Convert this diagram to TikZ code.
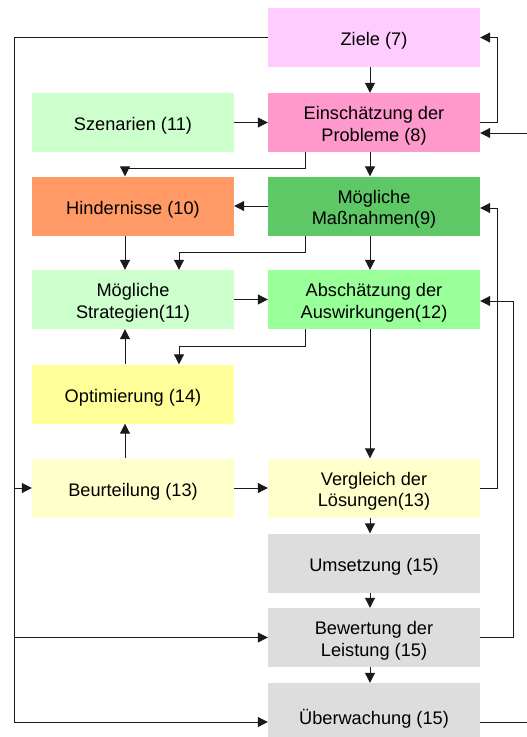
\documentclass[tikz,border=0pt]{standalone}
\usepackage{fontspec}
\setmainfont{Liberation Sans}
\usetikzlibrary{arrows.meta,calc}
\definecolor{cZiele}{HTML}{FFCCFF}
\definecolor{cEinsch}{HTML}{FF99CC}
\definecolor{cHellgruen}{HTML}{CCFFCC}
\definecolor{cHind}{HTML}{FF9966}
\definecolor{cMass}{RGB}{95,200,102}
\definecolor{cAbsch}{HTML}{99FF99}
\definecolor{cOpt}{HTML}{FFFF99}
\definecolor{cBeurt}{HTML}{FFFFCC}
\definecolor{cGrau}{HTML}{DDDDDD}
\definecolor{cLine}{HTML}{1A1A1A}
\begin{document}
\begin{tikzpicture}[x=1pt,y=-1pt,
  txt/.style={inner sep=0pt,align=center,yshift=-3.5pt,
    font=\fontsize{18.2pt}{21.5pt}\selectfont},
  box/.style={draw=none,inner sep=0pt,label={[txt]center:{#1}}},
  leftbox/.style={box={#1},minimum width=202pt,minimum height=59pt},
  rightbox/.style={box={#1},minimum width=212pt,minimum height=59pt},
  conn/.style={draw=cLine,line width=1pt},
  arr/.style={conn,-{Triangle[length=10pt,width=10pt]}}]
\useasboundingbox (0,0) rectangle (527,737);
% nodes
\node[rightbox={Ziele (7)},fill=cZiele]                          (ziele)  at (374,37.5)  {};
\node[leftbox={Szenarien (11)},fill=cHellgruen]                  (szen)   at (133,122.5) {};
\node[rightbox={Einschätzung der\\Probleme (8)},fill=cEinsch]    (einsch) at (374,122.5) {};
\node[leftbox={Hindernisse (10)},fill=cHind]                     (hind)   at (133,206)   {};
\node[rightbox={Mögliche\\Maßnahmen(9)},fill=cMass]              (mass)   at (374,206)   {};
\node[leftbox={Mögliche\\Strategien(11)},fill=cHellgruen]        (strat)  at (133,299.5) {};
\node[rightbox={Abschätzung der\\Auswirkungen(12)},fill=cAbsch]  (absch)  at (374,299.5) {};
\node[leftbox={Optimierung (14)},fill=cOpt]                      (opt)    at (133,394)   {};
\node[leftbox={Beurteilung (13)},fill=cBeurt]                    (beurt)  at (133,488)   {};
\node[rightbox={Vergleich der\\Lösungen(13)},fill=cBeurt]        (vergl)  at (374,488)   {};
\node[rightbox={Umsetzung (15)},fill=cGrau]                      (ums)    at (374,563)   {};
\node[rightbox={Bewertung der\\Leistung (15)},fill=cGrau]        (bew)    at (374,637.5) {};
\node[rightbox={Überwachung (15)},fill=cGrau,minimum height=64pt] (ueb)   at (374,715)   {};
% guide coordinates
\coordinate (xl)  at (14,0);
\coordinate (cl)  at (125,0);
\coordinate (cs)  at (179,0);
\coordinate (cr)  at (305,0);
\coordinate (cm)  at (370,0);
\coordinate (xr1) at (497,0);
\coordinate (xr2) at (513,0);
\coordinate (xr3) at (545,0);
\coordinate (yb)  at (0,722);
\coordinate (ye)  at (0,133);
% main column
\draw[arr] (ziele.south -| cm) -- (einsch.north -| cm);
\draw[arr] (einsch.south -| cm) -- (mass.north -| cm);
\draw[arr] (mass.south -| cm) -- (absch.north -| cm);
\draw[arr] (absch.south -| cm) -- (vergl.north -| cm);
\draw[arr] (vergl.south -| cm) -- (ums.north -| cm);
\draw[arr] (ums.south -| cm) -- (bew.north -| cm);
\draw[arr] (bew.south -| cm) -- (ueb.north -| cm);
% horizontal links
\draw[arr] (szen.east) -- (einsch.west);
\draw[arr] (mass.west) -- (hind.east);
\draw[arr] (strat.east) -- (absch.west);
\draw[arr] (beurt.east) -- (vergl.west);
% left column
\draw[arr] (hind.south -| cl) -- (strat.north -| cl);
\draw[arr] (opt.north -| cl) -- (strat.south -| cl);
\draw[arr] (beurt.north -| cl) -- (opt.south -| cl);
% elbows
\draw[arr] (einsch.south -| cr) -- ++(0,16) -| (hind.north -| cl);
\draw[arr] (mass.south -| cr) -- ++(0,17) -| (strat.north -| cs);
\draw[arr] (absch.south -| cr) -- ++(0,17) -| (opt.north -| cs);
% right feedback loops
\draw[arr] (einsch.east) -- (einsch.east -| xr1) |- (ziele.east);
\draw[arr] (vergl.east) -- (vergl.east -| xr1) |- ([yshift=-2pt]mass.east);
\draw[arr] (bew.east) -- (bew.east -| xr2) |- ([yshift=-1.5pt]absch.east);
\draw[arr] (ueb.east |- yb) -- (xr3 |- yb) -- (xr3 |- ye) -- (einsch.east |- ye);
% left loop
\draw[arr] (ziele.west) -- (ziele.west -| xl) -- (xl |- yb) -- (ueb.west |- yb);
\draw[arr] (xl |- beurt.west) -- (beurt.west);
\draw[arr] (xl |- bew.west) -- (bew.west);
\end{tikzpicture}
\end{document}
